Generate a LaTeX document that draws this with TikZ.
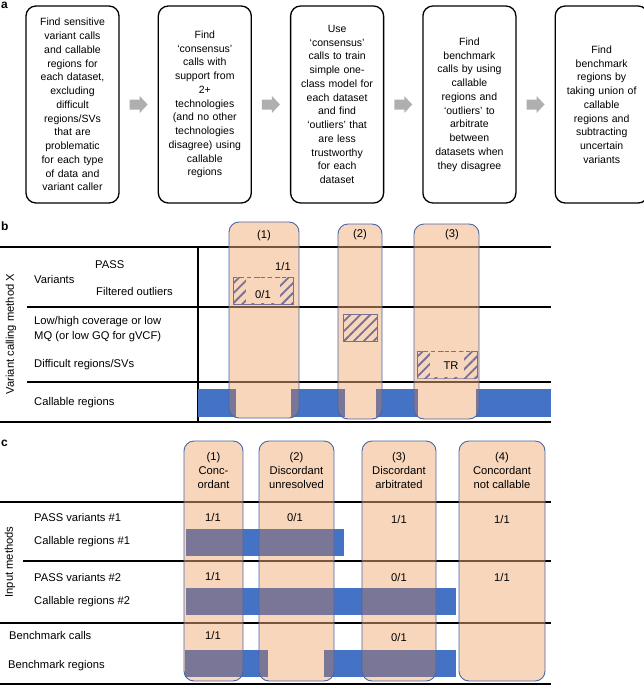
\documentclass[tikz,border=0pt]{standalone}
\usepackage{fontspec}
\setmainfont{Liberation Sans}
\usetikzlibrary{positioning, calc, patterns.meta}

\definecolor{peachbase}{RGB}{241,173,119}
\definecolor{peachsolid}{RGB}{248,214,187}
\definecolor{barblue}{RGB}{68,114,196}
\definecolor{overlapc}{RGB}{122,118,152}
\definecolor{colline}{RGB}{72,102,168}
\definecolor{hatchc}{RGB}{118,112,150}
\definecolor{flowgray}{RGB}{175,175,175}

\begin{document}
\begin{tikzpicture}[x=1pt, y=-1pt, font=\fontsize{11.2}{14}\selectfont,
        stepbox/.style={rectangle, draw, rounded corners=10pt, line width=1.3pt, text width=85pt, inner xsep=4pt, minimum height=197pt, align=center, font=\fontsize{10.5}{13.75}\selectfont},
        flowarrow/.style={fill=flowgray},
        panel/.style={font=\fontsize{12}{14}\selectfont\bfseries, anchor=north west, inner sep=0pt},
        lbl/.style={anchor=west, inner sep=0pt},
        val/.style={inner sep=0pt},
        thickrule/.style={line width=2.4pt},
        thinrule/.style={line width=1.1pt},
        bar/.style={fill=barblue},
        column/.style={rounded corners=10pt, fill=peachbase, fill opacity=0.5},
        colframe/.style={rounded corners=10pt, draw=colline, line width=0.9pt},
        hatchbox/.style={pattern={Lines[angle=45,distance=7pt,line width=1.8pt]}, pattern color=hatchc},
        hatchedge/.style={draw=hatchc, line width=1pt}]
    \useasboundingbox (0,0) rectangle (644,685);

    % a: pipeline
    \node[panel] (pa) at (1,1.5) {a};
    \node[stepbox] (find) at (72.5,104.5) {Find sensitive\\variant calls\\and callable\\regions for\\each dataset,\\excluding\\difficult\\regions/SVs\\that are\\problematic\\for each type\\of data and\\variant caller};
    \node[stepbox, right=38pt of find] (consensus) {Find\\`consensus'\\calls with\\support from\\2+\\technologies\\(and no other\\technologies\\disagree) using\\callable\\regions};
    \node[stepbox, right=38pt of consensus] (train) {Use\\`consensus'\\calls to train\\simple one-\\class model for\\each dataset\\and find\\`outliers' that\\are less\\trustworthy\\for each\\dataset};
    \node[stepbox, right=38pt of train] (arbitrate) {Find\\benchmark\\calls by using\\callable\\regions and\\`outliers' to\\arbitrate\\between\\datasets when\\they disagree};
    \node[stepbox, right=38pt of arbitrate] (union) {Find\\benchmark\\regions by\\taking union of\\callable\\regions and\\subtracting\\uncertain\\variants};
    \foreach \a/\b [count=\i] in {find/consensus, consensus/train, train/arbitrate, arbitrate/union} {
        \coordinate (flow\i) at ($(\a.east)!0.5!(\b.west)$);
        \fill[flowarrow] ($(flow\i)+(-9,-5)$) -- ++(10,0) -- ++(0,-3.5) -- ++(8,8.5) -- ++(-8,8.5) -- ++(0,-3.5) -- ++(-10,0) -- cycle;
    }

    % b: one method
    \node[panel] (pb) at (1,222) {b};
    \draw[thickrule] (0,247) -- (551,247);
    \draw[thinrule] (27,307) -- (551,307);
    \draw[thinrule] (27,382) -- (551,382);
    \draw[thickrule] (0,422) -- (551,422);
    \draw[thinrule] (198,247) -- (198,422);
    \foreach \l/\r in {198/236, 291/345, 376/418, 476/551}
        \fill[bar] (\l,389) rectangle (\r,417);
    \fill[column] (229,222) rectangle (299,418);
    \fill[column] (338,224) rectangle (382,419);
    \fill[column] (414,224) rectangle (479,419);
    \begin{scope}
        \clip[rounded corners=10pt] (229,222) rectangle (299,418) (338,224) rectangle (382,419) (414,224) rectangle (479,419);
        \foreach \l/\r in {198/236, 291/345, 376/418, 476/551}
            \fill[overlapc] (\l,389) rectangle (\r,417);
    \end{scope}
    \draw[colframe] (229,222) rectangle (299,418);
    \draw[colframe] (338,224) rectangle (382,419);
    \draw[colframe] (414,224) rectangle (479,419);

    \fill[hatchbox] (233,277) rectangle (293,304);
    \fill[peachsolid] (246,278) rectangle (280,303);
    \draw[hatchedge] (233,277) -- (233,304) -- (293,304) -- (293,277);
    \draw[hatchedge, dash pattern=on 4pt off 3pt] (293,277) -- (233,277);
    \fill[hatchbox] (343,314) rectangle (377,341);
    \draw[hatchedge] (343,314) rectangle (377,341);
    \fill[hatchbox] (417,351) rectangle (477,378);
    \fill[peachsolid] (430,352) rectangle (464,377);
    \draw[hatchedge] (417,351) -- (417,378);
    \draw[hatchedge] (477,351) -- (477,378);
    \draw[hatchedge, line width=0.5pt, opacity=0.6] (417,378) -- (477,378);
    \draw[hatchedge, dash pattern=on 4pt off 3pt] (477,351) -- (417,351);

    \node[val] (bh1) at (264,236) {(1)};
    \node[val] (bh2) at (360,235) {(2)};
    \node[val] (bh3) at (452,235) {(3)};
    \node[val] (pass11) at (283,266) {1/1};
    \node[val] (out01) at (263,294) {0/1};
    \node[val] (tr) at (451,366) {TR};
    \node[lbl] (pass) at (95,265) {PASS};
    \node[lbl] (variants) at (34,279) {Variants};
    \node[lbl] (filtered) at (96,291) {Filtered outliers};
    \node[lbl, align=left, font=\fontsize{11.2}{15}\selectfont] (cover) at (34,329.5) {Low/high coverage or low\\MQ (or low GQ for gVCF)};
    \node[lbl] (difficult) at (34,365) {Difficult regions/SVs};
    \node[lbl] (callable) at (34,403) {Callable regions};
    \node[val, rotate=90] (methodx) at (11,334) {Variant calling method X};

    % c: integration
    \node[panel] (pc) at (1,440) {c};
    \draw[thickrule] (0,502) -- (551,502);
    \draw[thinrule] (23,561) -- (551,561);
    \draw[thickrule] (0,623) -- (551,623);
    \draw[thickrule] (0,684) -- (551,684);
    \foreach \l/\t/\r/\b in {186/529/344/556, 186/588/456/615, 185/650/268/677, 324/650/456/677}
        \fill[bar] (\l,\t) rectangle (\r,\b);
    \foreach \l/\r in {184/243, 259/334, 362/436, 459/545}
        \fill[column] (\l,441) rectangle (\r,681);
    \begin{scope}
        \clip[rounded corners=10pt] (184,441) rectangle (243,681) (259,441) rectangle (334,681) (362,441) rectangle (436,681) (459,441) rectangle (545,681);
        \foreach \l/\t/\r/\b in {186/529/344/556, 186/588/456/615, 185/650/268/677, 324/650/456/677}
            \fill[overlapc] (\l,\t) rectangle (\r,\b);
    \end{scope}
    \foreach \l/\r in {184/243, 259/334, 362/436, 459/545}
        \draw[colframe] (\l,441) rectangle (\r,681);

    \node[val, align=center] (ch1) at (213.5,470) {(1)\\Conc-\\ordant};
    \node[val, align=center] (ch2) at (296.5,470) {(2)\\Discordant\\unresolved};
    \node[val, align=center] (ch3) at (399,470) {(3)\\Discordant\\arbitrated};
    \node[val, align=center] (ch4) at (502,470) {(4)\\Concordant\\not callable};
    \node[val] (c1a) at (213,517) {1/1};
    \node[val] (c1b) at (213,576) {1/1};
    \node[val] (c1c) at (213,635) {1/1};
    \node[val] (c2a) at (295,517) {0/1};
    \node[val] (c3a) at (399,519) {1/1};
    \node[val] (c3b) at (399,577) {0/1};
    \node[val] (c3c) at (399,637) {0/1};
    \node[val] (c4a) at (502,519) {1/1};
    \node[val] (c4b) at (502,577) {1/1};
    \node[lbl] (pass1) at (34,517) {PASS variants \#1};
    \node[lbl] (call1) at (34,542) {Callable regions \#1};
    \node[lbl] (pass2) at (34,577) {PASS variants \#2};
    \node[lbl] (call2) at (34,602) {Callable regions \#2};
    \node[lbl] (bcalls) at (9,635) {Benchmark calls};
    \node[lbl] (bregions) at (8,666) {Benchmark regions};
    \node[val, rotate=90] (inputm) at (10,562) {Input methods};
\end{tikzpicture}
\end{document}
